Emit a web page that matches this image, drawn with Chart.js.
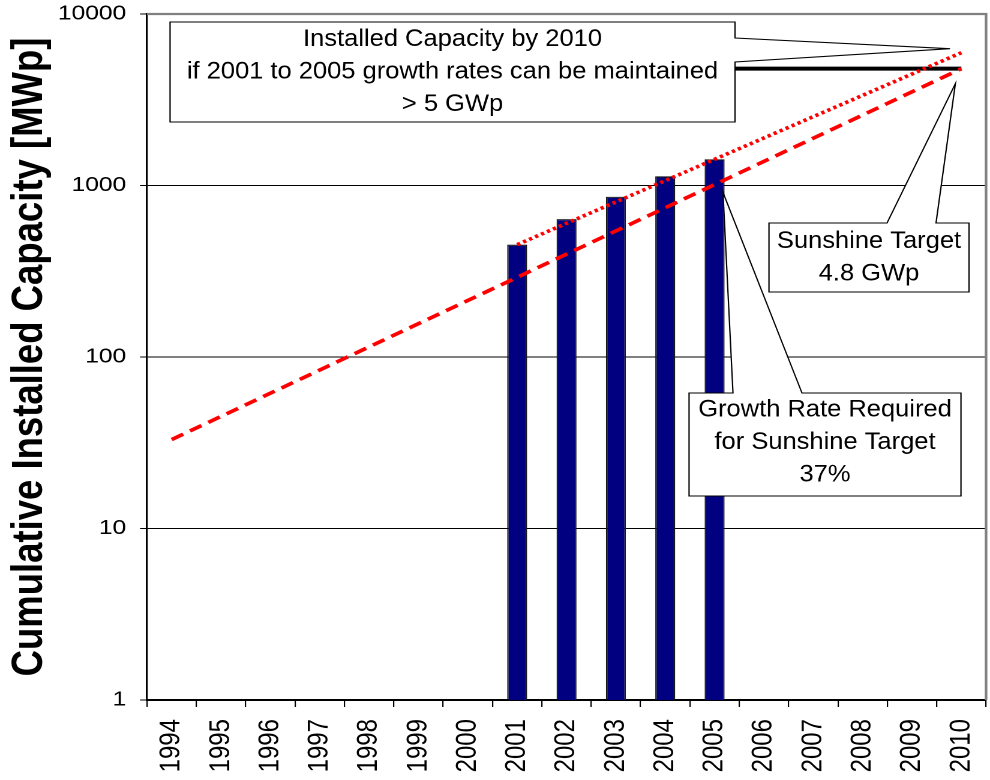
<!DOCTYPE html>
<html>
<head>
<meta charset="utf-8">
<script src="https://cdn.jsdelivr.net/npm/chart.js@4.4.1/dist/chart.umd.min.js"></script>
<style>
html,body{margin:0;padding:0;background:#fff;overflow:hidden}
#c{display:block}
</style>
</head>
<body>
<canvas id="c" width="825" height="780" style="width:990px;height:780px"></canvas>
<script>
// ---- data ----
const years = ['1994','1995','1996','1997','1998','1999','2000','2001','2002','2003','2004','2005','2006','2007','2008','2009','2010'];
const installedMWp = [null,null,null,null,null,null,null,452,637,860,1132,1422,null,null,null,null,null];
const required37Trend = [33,null,null,null,null,null,null,null,null,null,null,null,null,null,null,null,4800];
const growth0105Trend = [null,null,null,null,null,null,null,452,null,null,null,null,null,null,null,null,5950];
const sunshineTarget = [null,null,null,null,null,null,null,null,null,null,null,4800,null,null,null,null,4800];
const yTickValues = [1,10,100,1000,10000];
const yTitle = 'Cumulative Installed Capacity [MWp]';
const noteCapacity = ['Installed Capacity by 2010','if 2001 to 2005 growth rates can be maintained','> 5 GWp'];
const noteTarget = ['Sunshine Target','4.8 GWp'];
const noteGrowth = ['Growth Rate Required','for Sunshine Target','37%'];

const FONT = '"Liberation Sans", Arial, Helvetica, sans-serif';

const calloutPlugin = {
  id: 'callouts',
  afterDatasetsDraw(chart) {
    const ctx = chart.ctx, a = chart.chartArea;
    const xs = chart.scales.x, ys = chart.scales.y;
    // gray plot frame (top/right)
    ctx.save();
    ctx.strokeStyle = '#808080';
    ctx.lineWidth = 2.2;
    ctx.beginPath();
    ctx.moveTo(a.left, a.top); ctx.lineTo(a.right, a.top); ctx.lineTo(a.right, a.bottom);
    ctx.stroke();
    ctx.restore();

    const i2010 = years.indexOf('2010'), i2005 = years.indexOf('2005');
    const tip1 = [xs.getPixelForValue(i2010) - 9.5, ys.getPixelForValue(growth0105Trend[i2010]) - 4];
    const tip2 = [xs.getPixelForValue(i2010) - 5, ys.getPixelForValue(sunshineTarget[i2010]) + 15];
    const tip3 = [xs.getPixelForValue(i2005) + 7, ys.getPixelForValue(1000) + 7];

    const boxes = [
      {r:[141.7,22,612.5,122], poly:(r)=>[[r[0],r[1]],[r[2],r[1]],[r[2],38],tip1,[r[2],62],[r[2],r[3]],[r[0],r[3]]], lines:noteCapacity, dy:-2},
      {r:[640.8,223,807.5,292], poly:(r)=>[[r[0],r[1]],[739.2,r[1]],tip2,[780,r[1]],[r[2],r[1]],[r[2],r[3]],[r[0],r[3]]], lines:noteTarget, dy:-2},
      {r:[574.2,393,800.8,496], poly:(r)=>[[r[0],r[1]],[610.8,r[1]],tip3,[668.3,r[1]],[r[2],r[1]],[r[2],r[3]],[r[0],r[3]]], lines:noteGrowth, dy:-4}
    ];
    ctx.save();
    boxes.forEach(b => {
      const p = b.poly(b.r);
      ctx.beginPath();
      ctx.moveTo(p[0][0], p[0][1]);
      for (let i = 1; i < p.length; i++) ctx.lineTo(p[i][0], p[i][1]);
      ctx.closePath();
      ctx.fillStyle = '#fff';
      ctx.fill();
      ctx.strokeStyle = '#000';
      ctx.lineWidth = 1.1;
      ctx.stroke();
      const size = 24, lh = 32.5, sx = 0.885;
      ctx.font = size + 'px ' + FONT;
      ctx.fillStyle = '#000';
      ctx.textAlign = 'center';
      ctx.textBaseline = 'alphabetic';
      const cx = (b.r[0] + b.r[2]) / 2, cy = (b.r[1] + b.r[3]) / 2 + b.dy;
      const n = b.lines.length;
      b.lines.forEach((t, i) => {
        ctx.save();
        ctx.translate(cx, cy + (i - (n - 1) / 2) * lh + size * 0.716 / 2);
        ctx.scale(sx, 1);
        ctx.fillText(t, 0, 0);
        ctx.restore();
      });
    });
    ctx.restore();
  }
};

function noPad(s) { s.paddingTop = 0; s.paddingBottom = 0; s.paddingLeft = 0; s.paddingRight = 0; }

new Chart(document.getElementById('c'), {
  data: {
    labels: years,
    datasets: [
      {type:'line', data: growth0105Trend, borderColor:'#ff0000', borderWidth:3.6, borderDash:[2.8,2.8], pointRadius:0, spanGaps:true, fill:false, order:1},
      {type:'line', data: required37Trend, borderColor:'#ff0000', borderWidth:3.6, borderDash:[11,6.5], pointRadius:0, spanGaps:true, fill:false, order:1},
      {type:'line', data: sunshineTarget, borderColor:'#000', borderWidth:4, pointRadius:0, spanGaps:true, fill:false, order:1},
      {type:'bar', data: installedMWp, backgroundColor:'#000080', borderColor:'#1a1a1a', borderWidth:1.2, barPercentage:0.405, categoryPercentage:1, order:2}
    ]
  },
  options: {
    responsive: false,
    animation: false,
    devicePixelRatio: 2,
    layout: {autoPadding:false, padding: {top:14, right:3.3, left:0, bottom:0}},
    plugins: {legend:{display:false}, tooltip:{enabled:false}},
    scales: {
      x: {
        type: 'category',
        offset: true,
        grid: {offset:true, drawOnChartArea:false, color:'#000', tickLength:7, lineWidth:1.1},
        border: {color:'#000', width:2},
        ticks: {minRotation:90, maxRotation:90, autoSkip:false, padding:12, color:'#000', font:{family:FONT, size:24}},
        afterFit(s){ s.height = 80; noPad(s); }
      },
      y: {
        type: 'logarithmic',
        min: 1, max: 10000,
        afterBuildTicks(s){ s.ticks = yTickValues.map(v => ({value:v})); },
        afterFit(s){ s.width = 122.5; noPad(s); },
        grid: {color: c => (c.tick && c.tick.value === 10000) ? 'rgba(0,0,0,0)' : '#000', tickColor:'#000', tickLength:5.8, lineWidth:1},
        border: {color:'#000', width:1.6},
        ticks: {padding:11.5, color:'#000', font:{family:FONT, size:20.5}, callback: v => String(v)},
        title: {display:true, text:yTitle, color:'#000', font:{family:FONT, size:36.5, weight:'bold'}, padding:{top:3, bottom:0}}
      }
    }
  },
  plugins: [calloutPlugin]
});
</script>
</body>
</html>
